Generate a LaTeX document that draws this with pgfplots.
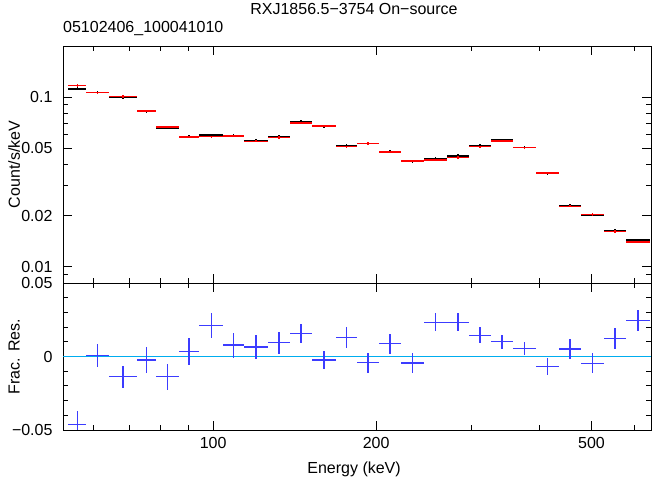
\documentclass[border=0pt]{standalone}
\usepackage{fontspec}
\setmainfont{Liberation Sans}
\usepackage{pgfplots}
\usepackage{pgfplotstable}
\pgfplotsset{compat=1.18}

% bin centre, bin edges (keV), data, model, frac. residual, its error
\pgfplotstableread{
c lo hi d m r re
56.1 54.0 58.3 0.1116 0.1170 -0.0461 0.0093
61.2 58.3 64.3 0.1063 0.1062 0.0008 0.0080
68.2 64.3 72.4 0.0993 0.1007 -0.0137 0.0074
75.4 72.4 78.5 0.0825 0.0827 -0.0024 0.0090
82.4 78.5 86.5 0.0658 0.0667 -0.0137 0.0088
90.3 86.5 94.2 0.0582 0.0580 0.0033 0.0094
99.2 94.2 104.3 0.0596 0.0584 0.0210 0.0083
109.1 104.3 114.1 0.0594 0.0589 0.0078 0.0085
120.0 114.1 126.4 0.0552 0.0548 0.0065 0.0080
132.4 126.4 138.8 0.0582 0.0577 0.0094 0.0075
145.4 138.8 152.3 0.0714 0.0703 0.0158 0.0066
160.3 152.3 168.7 0.0671 0.0673 -0.0024 0.0063
176.4 168.7 184.5 0.0516 0.0509 0.0131 0.0071
193.2 184.5 202.5 0.0530 0.0532 -0.0042 0.0068
212.2 202.5 222.4 0.0478 0.0474 0.0088 0.0068
233.6 222.4 245.2 0.0417 0.0419 -0.0044 0.0068
257.6 245.2 270.4 0.0435 0.0425 0.0233 0.0060
283.4 270.4 296.9 0.0450 0.0440 0.0233 0.0060
311.2 296.9 326.1 0.0516 0.0509 0.0144 0.0054
341.8 326.1 358.1 0.0557 0.0551 0.0101 0.0048
376.0 358.1 394.9 0.0505 0.0502 0.0056 0.0045
414.7 394.9 435.3 0.0355 0.0357 -0.0069 0.0057
456.1 435.3 478.0 0.0228 0.0227 0.0051 0.0067
502.0 478.0 527.2 0.0202 0.0203 -0.0046 0.0068
552.4 527.2 578.9 0.0163 0.0161 0.0121 0.0073
609.1 578.9 641.0 0.01432 0.01398 0.0246 0.0070
}\spec

\definecolor{resblue}{RGB}{60,60,255}

\pgfplotsset{every axis/.append style={
    scale only axis, width=588bp,
    xmode=log, xmin=52.8, xmax=644,
    xtick={100,200,500}, minor xtick={60,70,80,90,300,400,600},
    tick align=inside, major tick length=9bp, minor tick length=5bp,
    tick style={black, line width=0.8bp},
    axis line style={line width=0.8bp},
    tick label style={font=\fontsize{16bp}{19bp}\selectfont},
    yticklabel style={xshift=-7bp},
    xticklabel style={yshift=-4bp},
    scaled ticks=false,
}}

\begin{document}
\begin{tikzpicture}[font=\fontsize{16bp}{19bp}\selectfont]
\useasboundingbox (0,0) rectangle (652bp,480bp);

\begin{axis}[at={(63bp,197bp)}, anchor=south west, height=237bp,
    ymode=log, ymin=0.008, ymax=0.2,
    xticklabel=\empty,
    ytick={0.01,0.02,0.05,0.1}, yticklabels={0.01,0.02,0.05,0.1},
    minor ytick={0.009,0.03,0.04,0.06,0.07,0.08,0.09,0.2},
    ylabel={Count/s/keV},
    ylabel style={at={(axis description cs:-0.083,0.5)}, anchor=center},
]
\addplot[draw=none, mark=none,
    error bars/.cd, x dir=both, x explicit, y dir=both, y explicit,
    error mark=none, error bar style={draw=black, line width=1.4bp}]
  table[x=c, y=d,
    x error plus expr=\thisrow{hi}-\thisrow{c},
    x error minus expr=\thisrow{c}-\thisrow{lo},
    y error expr=0.02*\thisrow{d}] {\spec};
\addplot[draw=none, mark=none,
    error bars/.cd, x dir=both, x explicit, y dir=both, y explicit,
    error mark=none, error bar style={draw=red, line width=1.4bp}]
  table[x=c, y=m,
    x error plus expr=\thisrow{hi}-\thisrow{c},
    x error minus expr=\thisrow{c}-\thisrow{lo},
    y error expr=0.015*\thisrow{m}] {\spec};
\end{axis}

\begin{axis}[at={(63bp,50bp)}, anchor=south west, height=147bp,
    ymin=-0.05, ymax=0.05,
    xticklabels={100,200,500},
    ytick={-0.05,0,0.05}, yticklabels={−0.05,0,0.05},
    minor ytick={-0.04,-0.03,-0.02,-0.01,0.01,0.02,0.03,0.04},
    ylabel={Frac. Res.},
    ylabel style={at={(axis description cs:-0.083,0.5)}, anchor=center},
    xlabel={Energy (keV)},
    xlabel style={at={(axis description cs:0.495,-0.265)}, anchor=center},
]
\addplot[cyan, line width=1.5bp] coordinates {(52.8,0) (644,0)};
\addplot[draw=none, mark=none,
    error bars/.cd, x dir=both, x explicit, y dir=both, y explicit,
    error mark=none, error bar style={draw=resblue, line width=1.4bp}]
  table[x=c, y=r,
    x error plus expr=\thisrow{hi}-\thisrow{c},
    x error minus expr=\thisrow{c}-\thisrow{lo},
    y error=re] {\spec};
\end{axis}

\node at (354bp,471bp) {RXJ1856.5−3754 On−source};
\node[anchor=west, inner sep=0pt] at (63bp,451bp) {05102406\_100041010};
\end{tikzpicture}
\end{document}
